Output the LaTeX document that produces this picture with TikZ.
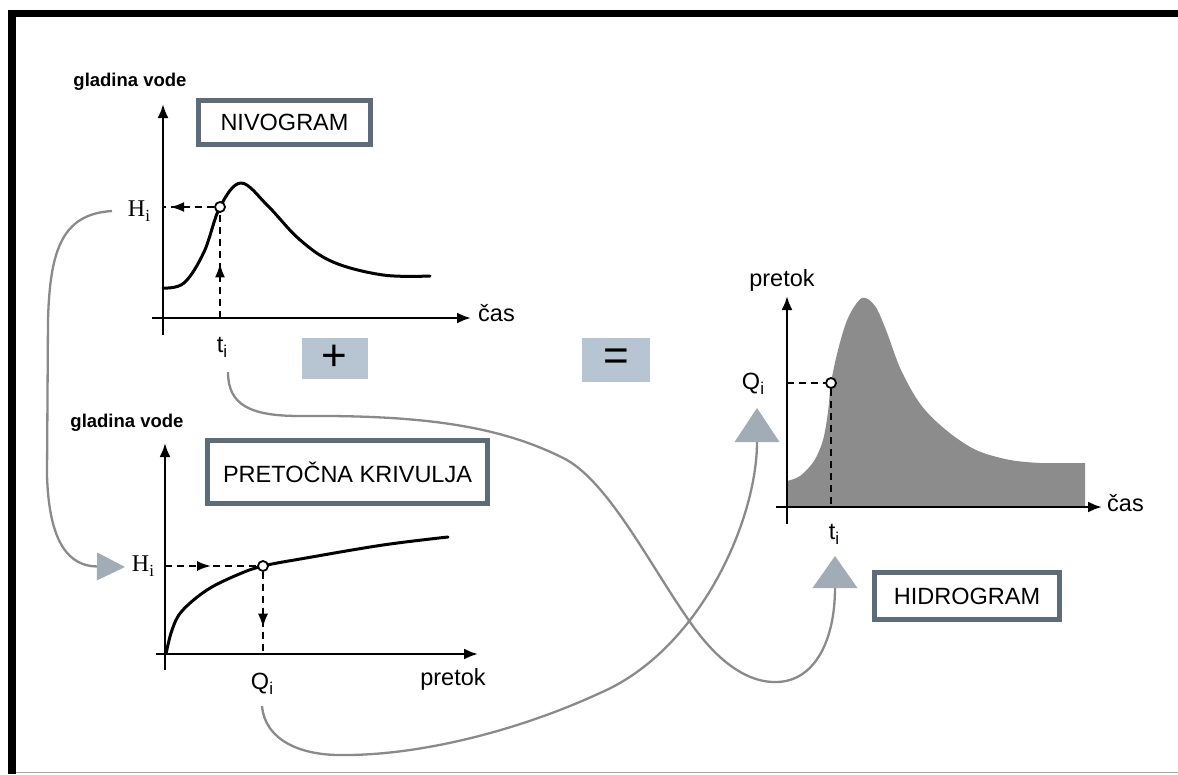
\documentclass[tikz,border=0pt]{standalone}
\usepackage{fontspec}
\setmainfont{Liberation Sans}
\newfontfamily\seriffont{Liberation Serif}
\usetikzlibrary{arrows.meta,decorations.markings}
\definecolor{boxborder}{HTML}{5D6B7B}
\definecolor{opfill}{HTML}{B7C4D1}
\definecolor{trifill}{HTML}{A2ACB6}
\definecolor{flowline}{HTML}{8A8A8A}
\definecolor{hydrofill}{HTML}{8C8C8C}
\newcommand{\subi}{\raisebox{-5pt}{\fontsize{17}{17}\selectfont i}}
\begin{document}
\begin{tikzpicture}[x=1pt,y=-1pt,
  axis/.style={line width=2.5pt,-{Latex[length=14pt,width=11pt]}},
  curve/.style={line width=3pt,line join=round,line cap=round},
  dashline/.style={line width=2pt,dash pattern=on 7pt off 5pt},
  midarrow/.style={postaction={decorate},decoration={markings,
     mark=at position #1 with {\arrow{Latex[length=14pt,width=10pt]}}}},
  pt/.style={circle,draw,line width=1.8pt,fill=white,minimum size=10pt,inner sep=0pt},
  titlebox/.style={draw=boxborder,line width=5pt,fill=white,inner sep=0pt,
     font=\fontsize{23.5}{23.5}\selectfont},
  opbox/.style={fill=opfill,inner sep=0pt,font=\fontsize{44}{44}\selectfont},
  lbl/.style={inner sep=0pt,font=\fontsize{23.5}{23.5}\selectfont},
  ylbl/.style={inner sep=0pt,font=\fontsize{18.5}{18.5}\selectfont\bfseries},
  flow/.style={draw=flowline,line width=2.3pt},
  bigtip/.style={-{Triangle[length=#1,width=45pt,fill=trifill,color=trifill,line width=0pt]}}
]
\useasboundingbox (0,0) rectangle (1178,774);
\fill[white] (0,0) rectangle (1178,774);
% frame
\fill[black] (8,9.5) rectangle (1178,17);
\fill[black] (8,9.5) rectangle (16,774);
\draw[black!35,line width=1.5pt] (16,772.5) -- (1178,772.5);

% ---------------- NIVOGRAM ----------------
\node[ylbl] (gv1) at (130,82) {gladina vode};
\node[titlebox,minimum width=172pt,minimum height=44pt] (niv) at (284.5,122.5) {NIVOGRAM};
\coordinate (y1b) at (163,335);
\coordinate (y1t) at (163,104);
\coordinate (x1l) at (152,318);
\coordinate (x1r) at (471,318);
\draw[axis] (y1b) -- (y1t);
\draw[axis] (x1l) -- (x1r);
\node[lbl,anchor=west] (cas1) at (478,313) {čas};
\draw[curve] plot[smooth,tension=0.6] coordinates {(163,288) (184,283) (204,252) (220,207) (241,183) (268,206) (299,239) (333,262) (383,275) (430,276)};
\node[pt] (p1) at (220,207) {};
\coordinate (h1) at (163,207);
\coordinate (t1) at (220,318);
\draw[dashline,midarrow=0.86] (p1.west) -- (h1);
\draw[dashline,midarrow=0.52] (t1) -- (p1.south);
\node[lbl,font=\fontsize{24}{24}\selectfont] (H1) at (139,211) {\seriffont H\subi};
\node[lbl] (ti1) at (222,347) {t\subi};

% operators
\node[opbox,minimum width=66pt,minimum height=41pt] (plus) at (334.5,358) {+};
\node[opbox,minimum width=68pt,minimum height=44pt] (eq) at (616,360) {=};

% ---------------- PRETOCNA KRIVULJA ----------------
\node[ylbl] (gv2) at (127,423) {gladina vode};
\node[titlebox,minimum width=280pt,minimum height=63pt] (pk) at (347.5,472) {PRETOČNA KRIVULJA};
\coordinate (y2b) at (165,670);
\coordinate (y2t) at (165,443);
\coordinate (x2l) at (156,654);
\coordinate (x2r) at (478,654);
\draw[axis] (y2b) -- (y2t);
\draw[axis] (x2l) -- (x2r);
\node[lbl] (pre2) at (453,679) {pretok};
\draw[curve] plot[smooth,tension=0.6] coordinates {(166,654) (172,630) (182,611) (207,590) (237,575) (263,566) (306,558) (383,545) (448,537)};
\node[pt] (p2) at (263,566) {};
\coordinate (h2) at (165,566);
\coordinate (q2) at (263,654);
\draw[dashline,midarrow=0.5] (h2) -- (p2.west);
\draw[dashline,midarrow=0.68] (p2.south) -- (q2);
\node[lbl,font=\fontsize{24}{24}\selectfont] (H2) at (143,566) {\seriffont H\subi};
\node[lbl] (Q2) at (262,684) {Q\subi};

% ---------------- HIDROGRAM ----------------
\fill[hydrofill] (787,507) -- plot[smooth,tension=0.55] coordinates {(787,481) (800,476) (814,461) (823,440) (828,412) (831,383) (838,350) (848,318) (862,298) (875,306) (886,330) (901,370) (921,405) (946,430) (976,450) (1010,460) (1040,463)} -- (1085,463) -- (1085,507) -- cycle;
\coordinate (y3b) at (787,524);
\coordinate (y3t) at (787,296);
\coordinate (x3l) at (776,507);
\coordinate (x3r) at (1102,507);
\draw[axis] (y3b) -- (y3t);
\draw[axis] (x3l) -- (x3r);
\node[lbl] (pre3) at (782,280) {pretok};
\node[lbl,anchor=west] (cas3) at (1107,503) {čas};
\node[pt] (p3) at (831,383) {};
\coordinate (h3) at (787,383);
\coordinate (t3) at (831,507);
\draw[dashline] (h3) -- (p3.west);
\draw[dashline] (p3.south) -- (t3);
\node[lbl] (Q3) at (753,384) {Q\subi};
\node[lbl] (ti3) at (834,534) {t\subi};
\node[titlebox,minimum width=185pt,minimum height=47pt] (hid) at (967,596) {HIDROGRAM};

% ---------------- flow connectors ----------------
\coordinate (fA) at (112,211);
\coordinate (fAend) at (125,567);
\draw[flow,-{Triangle[length=28pt,width=28pt,fill=trifill,color=trifill,line width=0pt]}]
  (fA) .. controls (62,214) and (50,250) .. (48,320) -- (47,475)
  .. controls (49,545) and (70,566) .. (fAend);

\coordinate (fB) at (228,372);
\coordinate (fBend) at (835,556);
\draw[flow,bigtip=32pt]
  (fB) .. controls (228,405) and (250,416) .. (300,416)
  .. controls (420,415) and (500,425) .. (567,460)
  .. controls (610,485) and (650,565) .. (690,622)
  .. controls (720,665) and (750,683) .. (777,682)
  .. controls (815,681) and (835,640) .. (fBend);

\coordinate (fC) at (262,706);
\coordinate (fCend) at (757,408);
\draw[flow,bigtip=34pt]
  (fC) .. controls (265,740) and (300,755) .. (340,755)
  .. controls (420,756) and (520,730) .. (600,693)
  .. controls (700,650) and (757,520) .. (fCend);
\end{tikzpicture}
\end{document}
